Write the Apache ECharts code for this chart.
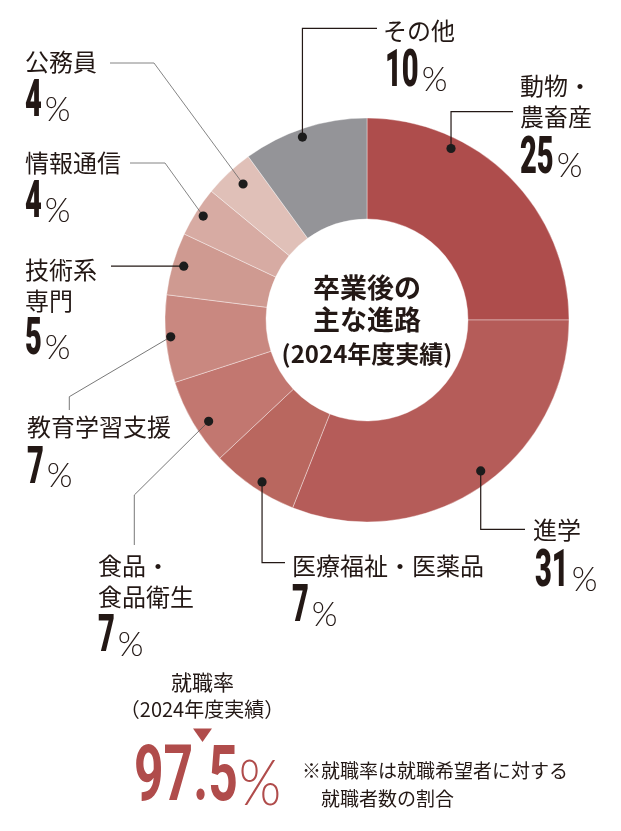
<!DOCTYPE html>
<html>
<head>
<meta charset="utf-8">
<script src="https://cdn.jsdelivr.net/npm/echarts@6/dist/echarts.min.js"></script>
<style>
  html, body { margin: 0; padding: 0; background: #fff; }
  #chart { width: 621px; height: 831px; }
</style>
</head>
<body>
<div id="chart"></div>
<script>
// Career paths after graduation, share of graduates (%)
const categories = ['動物・\n農畜産', '進学', '医療福祉・医薬品', '食品・\n食品衛生', '教育学習支援', '技術系\n専門', '情報通信', '公務員', 'その他'];
const shares = [25, 31, 7, 7, 7, 5, 4, 4, 10];
const centerTitle = ['卒業後の', '主な進路', '(2024年度実績)'];
const employmentTitle = ['就職率', '（2024年度実績）'];
const employmentRate = 97.5;
const footnote = ['※就職率は就職希望者に対する', '就職者数の割合'];

// ---- styling & layout ----
const sliceColors = ['#ae4d4c', '#b55c59', '#b9675f', '#c27770', '#c98880', '#cf9a91', '#d7aba3', '#e0c0b8', '#949498'];
const INK = '#231815';
const ACCENT = '#b04c4b';
const CX = 367, CY = 320, R_IN = 101, R_OUT = 202;
const JP = "'Noto Sans CJK JP', 'Noto Sans', sans-serif";
const NAME_FONT = '400 24px ' + JP;

// Where each callout sits: anchor position inside its slice, leader path, text spots
const callouts = [
  { frac: 0.29, r: 191, path: [[null, 111.7], [513, 111.7]], name: [520, 86], num: [520, 160], lw: 1.2, lc: INK },
  { frac: 0.475, r: 189, path: [[null, 529.3], [525, 529.3]], name: [533, 529.5], num: [535, 573.5], lw: 1.2, lc: INK },
  { frac: 0.45, r: 193, path: [[null, 562.7], [285, 562.7]], name: [292, 566], num: [292, 608.5], lw: 1.2, lc: INK },
  { frac: 0.42, r: 188, path: [[134.3, 495], [134.3, 545]], name: [98, 566], num: [98, 638.5], lw: 0.8, lc: '#555' },
  { frac: 0.52, r: 197, path: [[69.3, 396.7], [69.3, 410]], name: [27, 426.5], num: [27, 470], lw: 0.8, lc: '#555' },
  { frac: 0.51, r: 191, path: [[111, null]], name: [25, 270], num: [25, 341.5], lw: 1.2, lc: INK },
  { frac: 0.5, r: 194, path: [[165, 163], [130, 163]], name: [25, 162.5], num: [25, 204.5], lw: 0.8, lc: '#666' },
  { frac: 0.56, r: 184, path: [[154, 63], [110, 63]], name: [25, 62], num: [25, 103.5], lw: 0.8, lc: '#666' },
  { frac: 0.46, r: 194, path: [[null, 28.3], [377, 28.3]], name: [383, 31], num: [385, 73.5], lw: 1.2, lc: INK }
];

const measureCtx = document.createElement('canvas').getContext('2d');
function textWidth(str, font) {
  measureCtx.font = font;
  return measureCtx.measureText(str).width;
}

function textEl(str, x, y, font, fill, opts) {
  opts = opts || {};
  const style = {
    text: str, font: font, fill: fill,
    align: opts.align || 'left', textAlign: opts.align || 'left',
    verticalAlign: 'middle', textVerticalAlign: 'middle'
  };
  return { type: 'text', x: x, y: y, z: 100, scaleX: opts.scaleX || 1, style: style, silent: true };
}

// A number in condensed heavy figures followed by a light "%" sign
function percentEls(value, x, y, cfg) {
  const numFont = cfg.weight + ' ' + cfg.numSize + 'px Roboto, "Liberation Sans", sans-serif';
  const pctFont = '300 ' + cfg.pctSize + 'px Lato, "Noto Sans", sans-serif';
  const str = String(value);
  const w = textWidth(str, numFont) * cfg.numScale;
  return [
    textEl(str, x, y, numFont, cfg.color, { scaleX: cfg.numScale }),
    textEl('%', x + w + cfg.gap, y + cfg.pctDy, pctFont, cfg.color, { scaleX: cfg.pctScale })
  ];
}

const total = shares.reduce((a, b) => a + b, 0);
const graphics = [];
let cum = 0;
shares.forEach((v, i) => {
  const c = callouts[i];
  const ang = (cum + c.frac * v) / total * Math.PI * 2;
  cum += v;
  const px = CX + c.r * Math.sin(ang);
  const py = CY - c.r * Math.cos(ang);
  const pts = [[px, py]];
  c.path.forEach(p => pts.push([p[0] === null ? px : p[0], p[1] === null ? py : p[1]]));
  graphics.push({
    type: 'polyline', z: 99, silent: true,
    shape: { points: pts },
    style: { stroke: c.lc, lineWidth: c.lw, fill: null }
  });
  graphics.push({
    type: 'circle', z: 101, silent: true,
    shape: { cx: px, cy: py, r: 4.6 },
    style: { fill: '#1c1c1c' }
  });
  categories[i].split('\n').forEach((line, k) => {
    graphics.push(textEl(line, c.name[0], c.name[1] + k * 30.5, NAME_FONT, INK));
  });
  percentEls(v, c.num[0], c.num[1], {
    weight: 900, numSize: 51, numScale: 0.57, pctSize: 33,
    pctScale: 1, pctDy: 6.5, gap: 3, color: INK
  }).forEach(e => graphics.push(e));
});

// Centre caption of the ring
[[centerTitle[0], 287.5, 27], [centerTitle[1], 319.5, 27], [centerTitle[2], 353.5, 24]].forEach(t => {
  graphics.push(textEl(t[0], CX, t[1], 'bold ' + t[2] + 'px ' + JP, INK, { align: 'center' }));
});

// Employment rate block
graphics.push(textEl(employmentTitle[0], 202.5, 682, '400 21px ' + JP, INK, { align: 'center' }));
graphics.push(textEl(employmentTitle[1], 202, 709, '400 20px ' + JP, INK, { align: 'center' }));
graphics.push({
  type: 'polygon', z: 100, silent: true,
  shape: { points: [[193, 728.5], [212, 728.5], [202.5, 742]] },
  style: { fill: ACCENT }
});
percentEls(employmentRate, 134, 780.5, {
  weight: 'bold', numSize: 77, numScale: 0.67, pctSize: 64, pctScale: 0.85,
  pctDy: 3.5, gap: 1, color: ACCENT
}).forEach(e => graphics.push(e));
graphics.push(textEl(footnote[0], 302, 771, '400 19px ' + JP, INK));
graphics.push(textEl(footnote[1], 321, 798.5, '400 19px ' + JP, INK));

const chart = echarts.init(document.getElementById('chart'), null, { renderer: 'canvas' });
chart.setOption({
  backgroundColor: '#ffffff',
  animation: false,
  series: [{
    type: 'pie',
    center: [CX, CY],
    radius: [R_IN, R_OUT],
    startAngle: 90,
    clockwise: true,
    silent: true,
    label: { show: false },
    labelLine: { show: false },
    itemStyle: { borderColor: 'rgba(255,255,255,0.55)', borderWidth: 0.7 },
    data: categories.map((name, i) => ({
      name: name.replace('\n', ''),
      value: shares[i],
      itemStyle: { color: sliceColors[i] }
    }))
  }],
  graphic: graphics
});
</script>
</body>
</html>
